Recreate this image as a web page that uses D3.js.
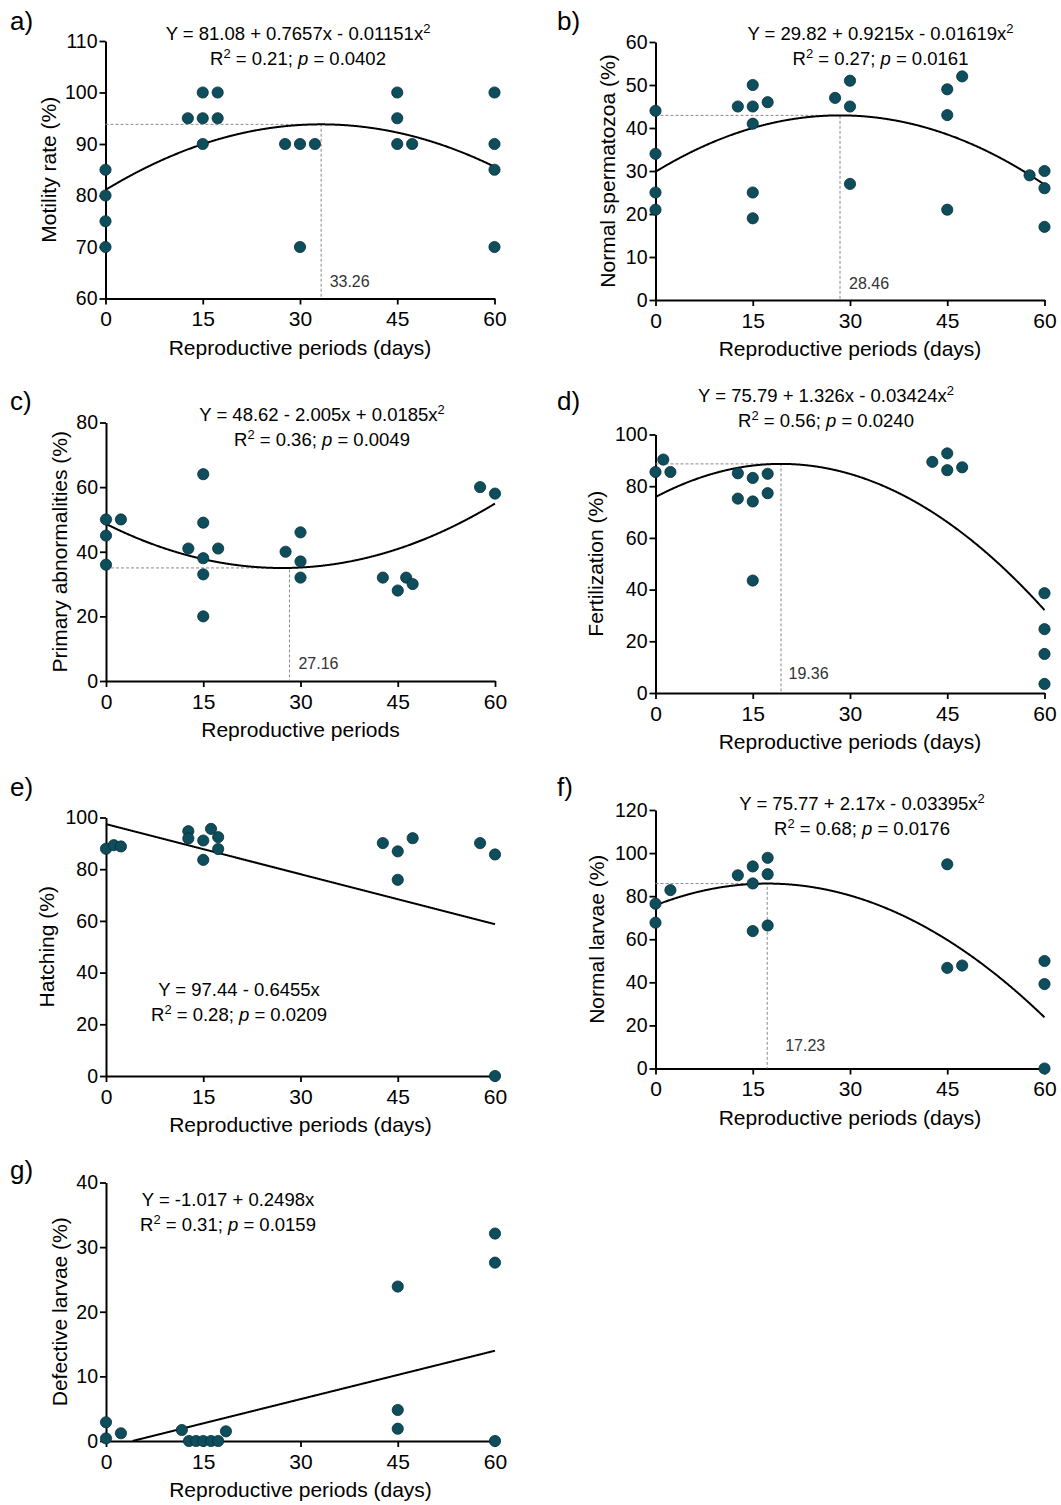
<!DOCTYPE html>
<html>
<head>
<meta charset="utf-8">
<script src="https://cdn.jsdelivr.net/npm/d3@7"></script>
<style>
body { margin: 0; background: #fff; }
svg text { font-family: "Liberation Sans", Arial, sans-serif; fill: #000; }
</style>
</head>
<body>
<script>
var xTicks = [0, 15, 30, 45, 60];

// a) motility rate
var motilityDays = [0, 0, 0, 0, 12.7, 15, 15, 15, 17.3, 17.3, 27.7, 30, 30, 32.3, 45, 45, 45, 47.3, 60, 60, 60, 60];
var motilityRate = [85, 80, 75, 70, 95, 100, 95, 90, 100, 95, 90, 90, 70, 90, 100, 95, 90, 90, 100, 90, 85, 70];
var motilityFit = [81.08, 0.7657, -0.01151];

// b) normal spermatozoa
var spermDays = [0, 0, 0, 0, 12.7, 15, 15, 15, 15, 15, 17.3, 27.7, 30, 30, 30, 45, 45, 45, 47.3, 57.7, 60, 60, 60];
var spermNormal = [44, 34, 25, 21, 45, 50, 45, 41, 25, 19, 46, 47, 51, 45, 27, 49, 43, 21, 52, 29, 30, 26, 17];
var spermFit = [29.82, 0.9215, -0.01619];

// c) primary abnormalities
var abnormDays = [0, 0, 0, 2.3, 12.7, 15, 15, 15, 15, 15, 17.3, 27.7, 30, 30, 30, 42.7, 45, 46.3, 47.3, 57.7, 60];
var abnormRate = [50, 45, 36, 50, 41, 64, 49, 38, 33, 20, 41, 40, 46, 37, 32, 32, 28, 32, 30, 60, 58];
var abnormFit = [48.62, -1.005, 0.0185];

// d) fertilization
var fertDays = [0, 1.2, 2.3, 12.7, 12.7, 15, 15, 15, 17.3, 17.3, 42.7, 45, 45, 47.3, 60, 60, 60, 60];
var fertRate = [85.5, 90.3, 85.5, 85, 75.2, 83.2, 74.1, 43.5, 84.8, 77.3, 89.4, 92.7, 86.2, 87.3, 38.6, 24.7, 15.1, 3.5];
var fertFit = [75.79, 1.326, -0.03424];

// e) hatching
var hatchDays = [0, 1.2, 2.3, 12.7, 12.7, 15, 15, 16.2, 17.3, 17.3, 42.7, 45, 45, 47.3, 57.7, 60, 60];
var hatchRate = [87.9, 89.3, 88.8, 94.7, 91.9, 91.1, 83.6, 95.6, 92.4, 87.8, 90.1, 86.9, 75.9, 92, 90.1, 85.7, 0];
var hatchFit = [97.44, -0.6455, 0];

// f) normal larvae
var larvaeDays = [0, 0, 2.3, 12.7, 15, 15, 15, 17.3, 17.3, 17.3, 45, 45, 47.3, 60, 60, 60];
var larvaeNormal = [76.5, 67.7, 82.8, 89.7, 93.8, 85.9, 63.8, 97.8, 90.2, 66.4, 94.8, 46.7, 47.8, 49.9, 39.2, 0];
var larvaeFit = [75.77, 1.17, -0.03395];

// g) defective larvae
var defectDays = [0, 0, 2.3, 11.7, 12.8, 13.9, 15, 16.2, 17.3, 18.5, 45, 45, 45, 60, 60, 60];
var defectRate = [2.9, 0.4, 1.2, 1.7, 0, 0, 0, 0, 0, 1.5, 23.9, 4.8, 1.9, 32.1, 27.6, 0];
var defectFit = [-1.017, 0.2498, 0];

var peakDays = [33.26, 28.46, 28.3, 19.36, null, 17.23, null];
var peakLabels = ['33.26', '28.46', '27.16', '19.36', null, '17.23', null];

var equations = [
    ['Y = 81.08 + 0.7657x - 0.01151x²', 'R² = 0.21; {p} = 0.0402'],
    ['Y = 29.82 + 0.9215x - 0.01619x²', 'R² = 0.27; {p} = 0.0161'],
    ['Y = 48.62 - 2.005x + 0.0185x²', 'R² = 0.36; {p} = 0.0049'],
    ['Y = 75.79 + 1.326x - 0.03424x²', 'R² = 0.56; {p} = 0.0240'],
    ['Y = 97.44 - 0.6455x', 'R² = 0.28; {p} = 0.0209'],
    ['Y = 75.77 + 2.17x - 0.03395x²', 'R² = 0.68; {p} = 0.0176'],
    ['Y = -1.017 + 0.2498x', 'R² = 0.31; {p} = 0.0159']
];

var yTitles = ['Motility rate (%)', 'Normal spermatozoa (%)', 'Primary abnormalities (%)',
    'Fertilization (%)', 'Hatching (%)', 'Normal larvae (%)', 'Defective larvae (%)'];
var xTitles = ['Reproductive periods (days)', 'Reproductive periods (days)', 'Reproductive periods',
    'Reproductive periods (days)', 'Reproductive periods (days)', 'Reproductive periods (days)',
    'Reproductive periods (days)'];
var tags = ['a)', 'b)', 'c)', 'd)', 'e)', 'f)', 'g)'];
var yDomains = [[60, 110], [0, 60], [0, 80], [0, 100], [0, 100], [0, 120], [0, 40]];
var ySteps = [10, 10, 20, 20, 20, 20, 10];

var series = [
    [motilityDays, motilityRate, motilityFit],
    [spermDays, spermNormal, spermFit],
    [abnormDays, abnormRate, abnormFit],
    [fertDays, fertRate, fertFit],
    [hatchDays, hatchRate, hatchFit],
    [larvaeDays, larvaeNormal, larvaeFit],
    [defectDays, defectRate, defectFit]
];

// layout of each panel (pixels)
var layout = [
    {left: 105.5, top: 41, bottom: 298.5, tag: [10, 30], eq: [298, 39.5], titleX: 49, peakDx: 8.5, peakDy: -11.5},
    {left: 655.5, top: 42, bottom: 300, tag: [557, 30], eq: [880.5, 39.5], titleX: 608, peakDx: 9, peakDy: -11.5},
    {left: 106, top: 422.5, bottom: 681, tag: [10, 410], eq: [322, 420.5], titleX: 60, peakDx: 9, peakDy: -12.5},
    {left: 655.5, top: 434.5, bottom: 693, tag: [557, 410], eq: [826, 402], titleX: 596, peakDx: 7.5, peakDy: -14.5},
    {left: 106, top: 817.5, bottom: 1076, tag: [10, 796], eq: [239, 995.5], titleX: 46.5, peakDx: 0, peakDy: 0},
    {left: 655.5, top: 810, bottom: 1068.5, tag: [557, 796], eq: [862, 809.5], titleX: 597, peakDx: 18, peakDy: -17.5},
    {left: 106, top: 1182.5, bottom: 1441, tag: [10, 1179], eq: [228, 1205.5], titleX: 60, peakDx: 0, peakDy: 0}
];
var plotWidth = 389;

function poly(c, x) { return c[0] + c[1] * x + c[2] * x * x; }

function richText(sel, str, size) {
    var parts = str.split(/(²|\{p\})/), raised = false;
    parts.forEach(function(s) {
        if (!s) return;
        var t = sel.append('tspan');
        if (s === '²') {
            t.attr('dy', -7).attr('font-size', size * 0.7).text('2');
            raised = true;
            return;
        }
        if (raised) { t.attr('dy', 7); raised = false; }
        if (s === '{p}') t.attr('font-style', 'italic').text('p');
        else t.text(s);
    });
}

var svg = d3.select('body').append('svg')
    .attr('width', 1061)
    .attr('height', 1505);

series.forEach(function(s, i) {
    var L = layout[i];
    var x = d3.scaleLinear().domain([0, 60]).range([L.left, L.left + plotWidth]);
    var y = d3.scaleLinear().domain(yDomains[i]).range([L.bottom, L.top]);
    var g = svg.append('g').attr('class', 'panel_' + i);

    // axes
    var yAxis = d3.axisLeft(y)
        .tickValues(d3.range(yDomains[i][0], yDomains[i][1] + 0.01, ySteps[i]))
        .tickSize(6).tickPadding(2).tickSizeOuter(0);
    var xAxis = d3.axisBottom(x)
        .tickValues(xTicks)
        .tickSize(6).tickPadding(7).tickSizeOuter(0);

    var ya = g.append('g').attr('transform', 'translate(' + L.left + ',0)').call(yAxis);
    var xa = g.append('g').attr('transform', 'translate(0,' + L.bottom + ')').call(xAxis);
    [ya, xa].forEach(function(a) {
        a.select('.domain').attr('stroke', '#000').attr('stroke-width', 2);
        a.selectAll('.tick line').attr('stroke', '#000').attr('stroke-width', 1.8);
        a.selectAll('.tick text').attr('fill', '#000').style('font-family', '"Liberation Sans", Arial, sans-serif');
    });
    ya.selectAll('.tick text').attr('font-size', 19.5);
    xa.selectAll('.tick text').attr('font-size', 21);

    // titles
    g.append('text')
        .attr('x', L.left + plotWidth / 2)
        .attr('y', L.bottom + 56)
        .attr('text-anchor', 'middle')
        .attr('font-size', 21)
        .text(xTitles[i]);
    g.append('text')
        .attr('transform', 'translate(' + L.titleX + ',' + (L.top + L.bottom) / 2 + ') rotate(-90)')
        .attr('dy', '0.35em')
        .attr('text-anchor', 'middle')
        .attr('font-size', 21)
        .text(yTitles[i]);
    g.append('text')
        .attr('x', L.tag[0]).attr('y', L.tag[1])
        .attr('font-size', 26)
        .text(tags[i]);

    // equation
    equations[i].forEach(function(line, k) {
        var t = g.append('text')
            .attr('x', L.eq[0]).attr('y', L.eq[1] + k * 25)
            .attr('text-anchor', 'middle')
            .attr('font-size', 18.5);
        richText(t, line, 18.5);
    });

    // peak guide lines
    if (peakDays[i] !== null) {
        var px = peakDays[i], py = poly(s[2], px);
        g.append('path')
            .attr('d', 'M' + x(0) + ',' + y(py) + 'H' + x(px) + 'V' + y(yDomains[i][0]))
            .attr('fill', 'none')
            .attr('stroke', '#8a8a8a')
            .attr('stroke-width', 1)
            .attr('stroke-dasharray', '3,2');
        g.append('text')
            .attr('x', x(px) + L.peakDx)
            .attr('y', L.bottom + L.peakDy)
            .attr('font-size', 16)
            .style('fill', '#333')
            .text(peakLabels[i]);
    }

    // fitted curve
    var pts = d3.range(0, 60.0001, 0.1)
        .map(function(d) { return [d, poly(s[2], d)]; })
        .filter(function(d) { return d[1] >= yDomains[i][0]; });
    g.append('path')
        .datum(pts)
        .attr('fill', 'none')
        .attr('stroke', '#000')
        .attr('stroke-width', 2)
        .attr('d', d3.line().x(function(d) { return x(d[0]); }).y(function(d) { return y(d[1]); }));

    // points
    g.selectAll('circle.dot')
        .data(s[0].map(function(d, k) { return [d, s[1][k]]; }))
        .enter().append('circle')
        .attr('class', 'dot')
        .attr('cx', function(d) { return x(d[0]); })
        .attr('cy', function(d) { return y(d[1]); })
        .attr('r', 5.6)
        .attr('fill', '#0e4d5b')
        .attr('stroke', '#062f38')
        .attr('stroke-width', 0.8);
});
</script>
</body>
</html>
